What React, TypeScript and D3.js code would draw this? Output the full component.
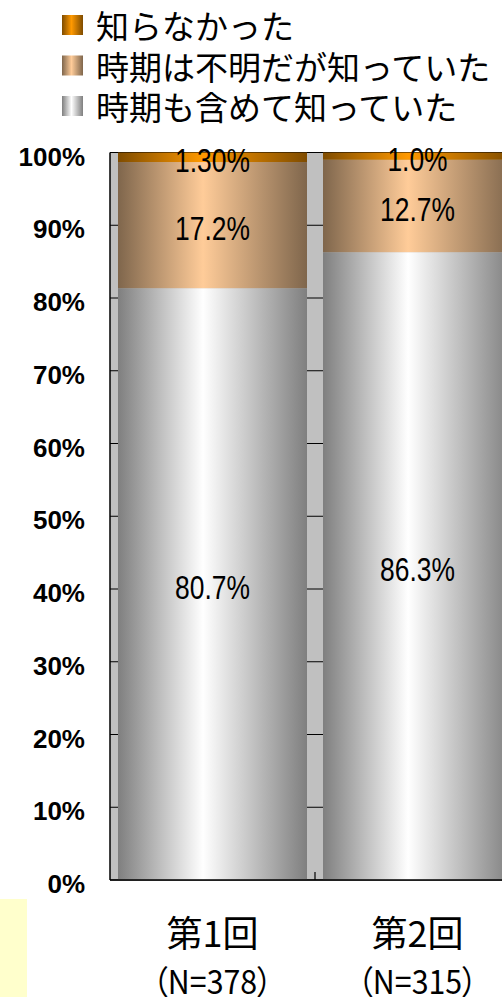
import React from "react";
import * as d3 from "d3";

const categories = ["第1回", "第2回"];
const sampleLabels = ["（N=378）", "（N=315）"];
const seriesNames = ["時期も含めて知っていた", "時期は不明だが知っていた", "知らなかった"];
const knewWithTiming = [80.7, 86.3];
const knewNoTiming = [17.2, 12.7];
const didNotKnow = [1.3, 1.0];
const valueLabels = [
  ["80.7%", "86.3%"],
  ["17.2%", "12.7%"],
  ["1.30%", "1.0%"],
];
const yTicks = [0, 0.1, 0.2, 0.3, 0.4, 0.5, 0.6, 0.7, 0.8, 0.9, 1.0];

const W = 502;
const H = 997;
const plotLeft = 110;
const plotRight = 520;
const plotTop = 152.5;
const plotBottom = 880;

const gradColors = [
  { id: "gGray", light: "#ffffff", dark: "#7f7f7f" },
  { id: "gTan", light: "#ffcc99", dark: "#7f664c" },
  { id: "gOrange", light: "#ff9900", dark: "#7f4c00" },
];

export default function App() {
  const keys = ["a", "b", "c"];
  const rows = categories.map((c, i) => ({
    cat: c,
    a: knewWithTiming[i],
    b: knewNoTiming[i],
    c: didNotKnow[i],
  }));
  const stacked = d3.stack<any>().keys(keys).offset(d3.stackOffsetExpand)(rows);

  const x = d3
    .scaleBand<string>()
    .domain(categories)
    .range([plotLeft, plotRight])
    .paddingInner(16 / 205)
    .paddingOuter(8 / 205);
  const y = d3.scaleLinear().domain([0, 1]).range([plotBottom, plotTop]);
  const fmt = d3.format(".0%");

  const legendOrder = [2, 1, 0];

  return (
    <svg
      width={W}
      height={H}
      style={{ position: "absolute", left: 0, top: 0, display: "block" }}
    >
      <defs>
        {gradColors.map((g) => (
          <linearGradient key={g.id} id={g.id} x1="0" x2="1" y1="0" y2="0">
            <stop offset="0" stopColor={g.dark} />
            <stop offset="0.45" stopColor={g.light} />
            <stop offset="1" stopColor={g.dark} />
          </linearGradient>
        ))}
      </defs>
      <rect x={0} y={0} width={W} height={H} fill="#ffffff" />
      {/* yellow box bottom-left */}
      <rect x={0} y={899} width={27} height={H - 899} fill="#ffffcc" />

      {/* legend */}
      {legendOrder.map((si, i) => {
        const cy = 25 + i * 40.5;
        return (
          <g key={si}>
            <rect x={62} y={cy - 10} width={21} height={20} fill={`url(#${gradColors[si].id})`} />
            <text
              x={96}
              y={cy}
              dominantBaseline="central"
              fontFamily="'Noto Sans CJK JP', sans-serif"
              fontSize={33}
              fill="#000"
            >
              {seriesNames[si]}
            </text>
          </g>
        );
      })}

      {/* plot area */}
      <rect
        x={plotLeft}
        y={plotTop}
        width={plotRight - plotLeft}
        height={plotBottom - plotTop}
        fill="#c0c0c0"
      />
      {yTicks.map((t) => (
        <line
          key={t}
          x1={plotLeft}
          x2={plotRight}
          y1={y(t)}
          y2={y(t)}
          stroke="#000"
          strokeWidth={1.2}
        />
      ))}

      {/* bars */}
      {stacked.map((s, si) =>
        s.map((d, ci) => (
          <rect
            key={`${si}-${ci}`}
            x={x(categories[ci])}
            y={y(d[1])}
            width={x.bandwidth()}
            height={y(d[0]) - y(d[1])}
            fill={`url(#${gradColors[si].id})`}
          />
        ))
      )}

      {/* axes */}
      <line x1={plotLeft} x2={plotLeft} y1={plotTop} y2={plotBottom} stroke="#000" strokeWidth={1.5} />
      <line x1={plotLeft} x2={plotRight} y1={plotBottom} y2={plotBottom} stroke="#000" strokeWidth={1.5} />
      {categories.slice(1).map((c) => {
        const xb = (x(c) as number) - (x.step() - x.bandwidth()) / 2;
        return <line key={c} x1={xb} x2={xb} y1={plotBottom} y2={plotBottom - 8} stroke="#000" strokeWidth={1.2} />;
      })}

      {/* y tick labels */}
      {yTicks.map((t) => (
        <text
          key={t}
          x={85}
          y={y(t) + 4}
          textAnchor="end"
          dominantBaseline="central"
          fontFamily="'Liberation Sans', Arial, sans-serif"
          fontWeight="bold"
          fontSize={26}
          fill="#000"
        >
          {fmt(t)}
        </text>
      ))}

      {/* data labels */}
      {stacked.map((s, si) =>
        s.map((d, ci) => {
          const cx = (x(categories[ci]) as number) + x.bandwidth() / 2;
          const cy = (y(d[0]) + y(d[1])) / 2 + 3;
          return (
            <text
              key={`l${si}-${ci}`}
              transform={`translate(${cx},${cy}) scale(0.8,1)`}
              textAnchor="middle"
              dominantBaseline="central"
              fontFamily="'Liberation Sans', Arial, sans-serif"
              fontSize={33}
              fill="#000"
            >
              {valueLabels[si][ci]}
            </text>
          );
        })
      )}

      {/* category labels */}
      {categories.map((c, ci) => {
        const cx = (x(c) as number) + x.bandwidth() / 2;
        return (
          <g key={c}>
            <text
              x={cx}
              y={931}
              textAnchor="middle"
              dominantBaseline="central"
              fontFamily="'Noto Sans CJK JP', sans-serif"
              fontSize={36}
              fill="#000"
            >
              {c}
            </text>
            <text
              transform={`translate(${cx},979) scale(0.92,1)`}
              textAnchor="middle"
              dominantBaseline="central"
              fontFamily="'Noto Sans CJK JP', sans-serif"
              fontSize={33}
              style={{ fontFeatureSettings: '"palt"' }}
              fill="#000"
            >
              {sampleLabels[ci]}
            </text>
          </g>
        );
      })}
    </svg>
  );
}
